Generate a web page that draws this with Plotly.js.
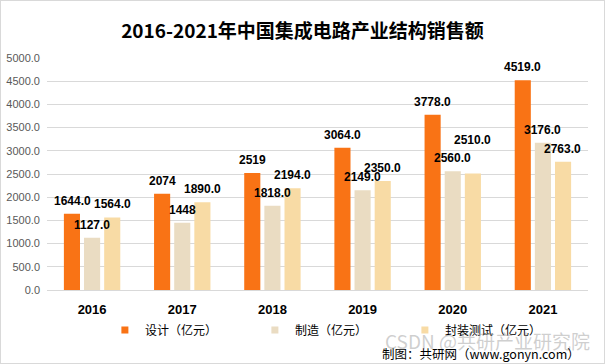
<!DOCTYPE html>
<html><head><meta charset="utf-8">
<script src="https://cdn.plot.ly/plotly-3.0.1.min.js"></script>
<style>html,body{margin:0;padding:0;background:#fff}#c{width:605px;height:364px;box-sizing:border-box;border:1px solid #D9D9D9}</style>
</head><body><div id="c"></div>
<script>
const years = ['2016','2017','2018','2019','2020','2021'];
const design = [1644, 2074, 2519, 3064, 3778, 4519];
const manufacture = [1127, 1448, 1818, 2149, 2560, 3176];
const packaging = [1564, 1890, 2194, 2350, 2510, 2763];
const designLabels = ['1644.0','2074','2519','3064.0','3778.0','4519.0'];
const manufactureLabels = ['1127.0','1448','1818.0','2149.0','2560.0','3176.0'];
const packagingLabels = ['1564.0','1890.0','2194.0','2350.0','2510.0','2763.0'];
const seriesNames = ['设计（亿元）','制造（亿元）','封装测试（亿元）'];
const yTicks = [0,500,1000,1500,2000,2500,3000,3500,4000,4500,5000];

const FONT = 'Liberation Sans, Noto Sans CJK SC, sans-serif';
const CJK = 'Noto Sans CJK SC, sans-serif';
const colors = ['#F97315', '#EADCC2', '#F8DBA5'];
const series = [design, manufacture, packaging];
const labels = [designLabels, manufactureLabels, packagingLabels];

const data = [];
series.forEach((vals, i) => {
  data.push({type:'bar', name:seriesNames[i], x:years, y:vals, marker:{color:colors[i]},
    showlegend:false, hoverinfo:'skip'});
});
// legend-only entries with small square swatches (on a hidden overlay axis)
series.forEach((vals, i) => {
  data.push({type:'scatter', mode:'markers', name:seriesNames[i], x:[0], y:[null],
    xaxis:'x2', yaxis:'y2',
    marker:{symbol:'square', size:7, color:colors[i]}, showlegend:true, hoverinfo:'skip'});
});

const annotations = [];
const slotPx = 20;
series.forEach((vals, i) => {
  vals.forEach((v, j) => {
    let lift = 4;
    if (i === 2 && years[j] === '2020') lift = 25;
    annotations.push({x:j, y:v, xref:'x', yref:'y', text:'<b>'+labels[i][j]+'</b>',
      showarrow:false, xanchor:'center', yanchor:'bottom', xshift:(i-1)*slotPx, yshift:lift,
      font:{family:FONT, size:12, color:'#000'}});
  });
});
annotations.push({text:'CSDN @共研产业研究院', xref:'paper', yref:'paper', x:1.007, y:-0.216,
  xanchor:'right', yanchor:'middle', showarrow:false,
  font:{family:CJK, size:19, color:'rgba(160,160,160,0.5)'}});
annotations.push({text:'制图：共研网（www.gonyn.com）', xref:'paper', yref:'paper', x:0.989, y:-0.272,
  xanchor:'right', yanchor:'middle', showarrow:false, font:{family:CJK, size:12.5, color:'#000'}});

const layout = {
  width:603, height:362,
  margin:{l:46, r:16, t:57, b:73},
  paper_bgcolor:'#fff', plot_bgcolor:'#fff',
  font:{family:FONT},
  title:{text:'<b>2016-2021年中国集成电路产业结构销售额</b>', x:0.5, xanchor:'center', y:0.917, yanchor:'middle',
    font:{family:CJK, size:19, color:'#000'}},
  barmode:'group', bargap:0.33, bargroupgap:0.2,
  showlegend:true,
  legend:{orientation:'h', x:0.107, xanchor:'left', y:-0.172, yanchor:'middle',
    font:{family:CJK, size:12, color:'#000'}, traceorder:'normal',
    entrywidth:105, itemwidth:30, bgcolor:'rgba(0,0,0,0)'},
  xaxis:{type:'category', range:[-0.5, years.length-0.5], autorange:false, showline:false, ticks:'', showgrid:false,
    tickfont:{family:FONT, size:13, color:'#000', weight:'bold'}, ticklabelstandoff:10},
  yaxis:{range:[0,5000], tickvals:yTicks, ticktext:yTicks.map(v=>v.toFixed(1)),
    showgrid:true, gridcolor:'#D9D9D9', gridwidth:1, zeroline:true, zerolinecolor:'#D9D9D9',
    showline:false, ticks:'', tickfont:{family:FONT, size:11, color:'#595959'}, ticklabelstandoff:6},
  xaxis2:{overlaying:'x', visible:false, range:[0,1]},
  yaxis2:{overlaying:'y', visible:false, range:[0,1]},
  annotations:annotations
};
Plotly.newPlot('c', data, layout, {displayModeBar:false, staticPlot:true});
</script></body></html>
